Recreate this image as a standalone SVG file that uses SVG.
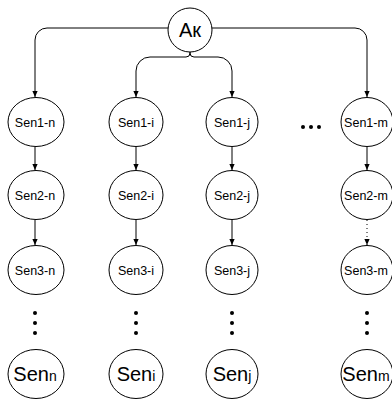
<svg xmlns="http://www.w3.org/2000/svg" width="392" height="403" viewBox="0 0 392 403">
  <style>
    .node { fill: #fff; stroke: #000; stroke-width: 1; }
    .lbl { font-family: "Liberation Sans", Arial, sans-serif; font-size: 12.5px; fill: #000; text-anchor: middle; }
    .big { font-family: "Liberation Sans", Arial, sans-serif; font-size: 20px; fill: #000; text-anchor: middle; }
    .sub { font-size: 14px; }
    .edge { fill: none; stroke: #000; stroke-width: 1; marker-end: url(#arrow); }
    .dotted { stroke-dasharray: 1 3; }
    .dot { fill: #000; }
  </style>
  <defs>
    <marker id="arrow" viewBox="0 0 6 6" refX="6" refY="3" markerWidth="6" markerHeight="6" markerUnits="userSpaceOnUse" orient="auto">
      <path d="M0,0.4 L6,3 L0,5.6 Z" fill="#000"/>
    </marker>
  </defs>

  <!-- connectors -->
  <g id="edges">
    <path class="edge" d="M169 28 H47 A12 12 0 0 0 35 40 V97"/>
    <path class="edge" d="M211 28 H355 A12 12 0 0 1 367 40 V97"/>
    <path class="edge" d="M190 51 V53 Q190 57 186 57 H150 A14 14 0 0 0 136 71 V97"/>
    <path class="edge" d="M190 51 V53 Q190 57 194 57 H218 A14 14 0 0 1 232 71 V97"/>

    <path class="edge" d="M35 147 V170"/>
    <path class="edge" d="M35 220 V245"/>
    <path class="edge" d="M136 147 V170"/>
    <path class="edge" d="M136 220 V245"/>
    <path class="edge" d="M232 147 V170"/>
    <path class="edge" d="M232 220 V245"/>
    <path class="edge" d="M367 147 V170"/>
    <path class="edge dotted" d="M367 220 V245"/>
  </g>

  <!-- root -->
  <g id="ak">
    <ellipse class="node" cx="190" cy="30" rx="22" ry="22"/>
    <text class="big" x="190" y="37">Ак</text>
  </g>

  <!-- column n -->
  <g id="sen1-n"><ellipse class="node" cx="36" cy="122" rx="28" ry="24.5"/><text class="lbl" x="35" y="126.5">Sen1-n</text></g>
  <g id="sen2-n"><ellipse class="node" cx="36" cy="195" rx="28" ry="24.5"/><text class="lbl" x="35" y="199.5">Sen2-n</text></g>
  <g id="sen3-n"><ellipse class="node" cx="36" cy="270" rx="28" ry="24.5"/><text class="lbl" x="35" y="274.5">Sen3-n</text></g>
  <g id="sen-n"><ellipse class="node" cx="36" cy="374" rx="28" ry="24.5"/><text class="big" x="35" y="381">Sen<tspan class="sub">n</tspan></text></g>

  <!-- column i -->
  <g id="sen1-i"><ellipse class="node" cx="136" cy="122" rx="27" ry="24.5"/><text class="lbl" x="136" y="126.5">Sen1-i</text></g>
  <g id="sen2-i"><ellipse class="node" cx="136" cy="195" rx="27" ry="24.5"/><text class="lbl" x="136" y="199.5">Sen2-i</text></g>
  <g id="sen3-i"><ellipse class="node" cx="136" cy="270" rx="27" ry="24.5"/><text class="lbl" x="136" y="274.5">Sen3-i</text></g>
  <g id="sen-i"><ellipse class="node" cx="136" cy="374" rx="27" ry="24.5"/><text class="big" x="136" y="381">Sen<tspan class="sub">i</tspan></text></g>

  <!-- column j -->
  <g id="sen1-j"><ellipse class="node" cx="232" cy="122" rx="26" ry="24.5"/><text class="lbl" x="232" y="126.5">Sen1-j</text></g>
  <g id="sen2-j"><ellipse class="node" cx="232" cy="195" rx="26" ry="24.5"/><text class="lbl" x="232" y="199.5">Sen2-j</text></g>
  <g id="sen3-j"><ellipse class="node" cx="232" cy="270" rx="26" ry="24.5"/><text class="lbl" x="232" y="274.5">Sen3-j</text></g>
  <g id="sen-j"><ellipse class="node" cx="232" cy="374" rx="26" ry="24.5"/><text class="big" x="232" y="381">Sen<tspan class="sub">j</tspan></text></g>

  <!-- column m -->
  <g id="sen1-m"><ellipse class="node" cx="367" cy="122" rx="26" ry="24.5"/><text class="lbl" x="366" y="126.5">Sen1-m</text></g>
  <g id="sen2-m"><ellipse class="node" cx="367" cy="195" rx="26" ry="24.5"/><text class="lbl" x="366" y="199.5">Sen2-m</text></g>
  <g id="sen3-m"><ellipse class="node" cx="367" cy="270" rx="26" ry="24.5"/><text class="lbl" x="366" y="274.5">Sen3-m</text></g>
  <g id="sen-m"><ellipse class="node" cx="367" cy="374" rx="26" ry="24.5"/><text class="big" x="366" y="381">Sen<tspan class="sub">m</tspan></text></g>

  <!-- ellipsis marks -->
  <g id="dots">
    <circle class="dot" cx="303" cy="127" r="2"/>
    <circle class="dot" cx="311" cy="127" r="2"/>
    <circle class="dot" cx="319" cy="127" r="2"/>

    <circle class="dot" cx="35" cy="313" r="2"/>
    <circle class="dot" cx="35" cy="323" r="2"/>
    <circle class="dot" cx="35" cy="333" r="2"/>
    <circle class="dot" cx="136" cy="313" r="2"/>
    <circle class="dot" cx="136" cy="323" r="2"/>
    <circle class="dot" cx="136" cy="333" r="2"/>
    <circle class="dot" cx="232" cy="313" r="2"/>
    <circle class="dot" cx="232" cy="323" r="2"/>
    <circle class="dot" cx="232" cy="333" r="2"/>
    <circle class="dot" cx="367" cy="313" r="2"/>
    <circle class="dot" cx="367" cy="323" r="2"/>
    <circle class="dot" cx="367" cy="333" r="2"/>
  </g>
</svg>
